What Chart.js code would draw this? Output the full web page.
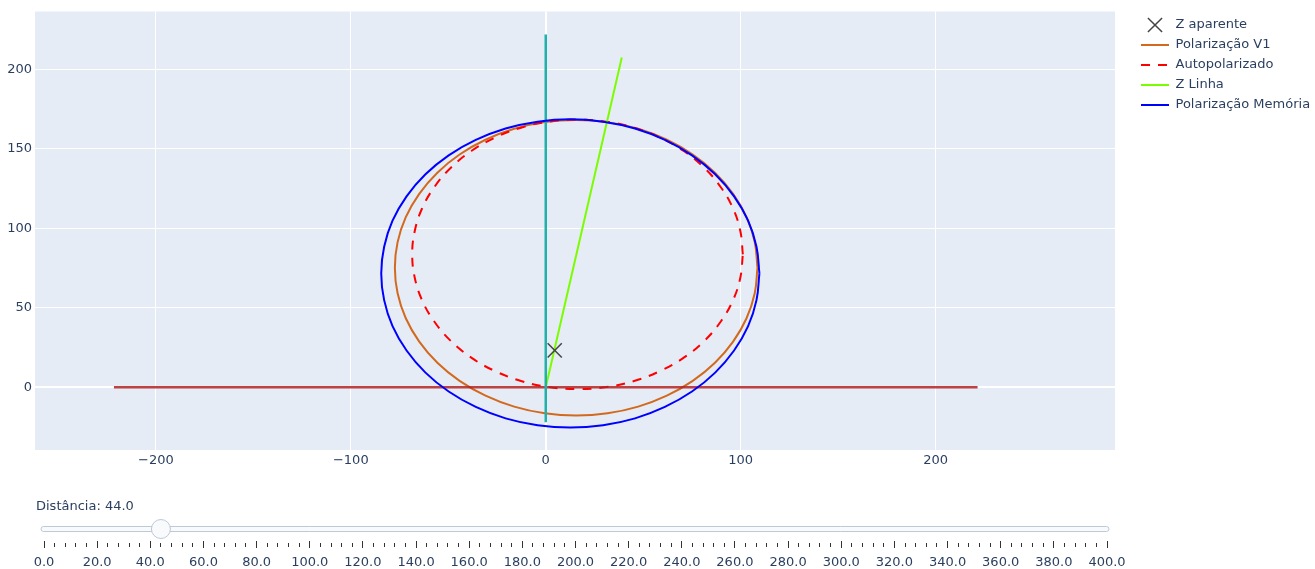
<!DOCTYPE html>
<html>
<head>
<meta charset="utf-8">
<script src="https://cdn.jsdelivr.net/npm/chart.js@4.4.1/dist/chart.umd.min.js"></script>
<style>
  html, body { margin: 0; padding: 0; background: #ffffff; }
  #wrap { position: relative; width: 1315px; height: 569px; overflow: hidden; }
  #main { position: absolute; left: 0; top: 0; }
  #slider { position: absolute; left: 0; top: 490px; }
</style>
</head>
<body>
<div id="wrap">
  <canvas id="main" width="1315" height="480"></canvas>
  <canvas id="slider" width="1315" height="79"></canvas>
</div>
<script>
// ---------- data (R, X in ohms) ----------
const zAparente = [[4.6, 23.2]];
const zLinha = [[0, 0], [39.0, 207.5]];
const eixoR = [[-221.5, 0], [221.5, 0]];
const eixoX = [[0, -22], [0, 222]];

const polarizacaoV1 = [
  [108.6, 75.2], [107.2, 91.3], [103.0, 107.0], [96.1, 121.7], [86.8, 135.0], [75.4, 146.4],
  [62.1, 155.7], [47.4, 162.6], [31.7, 166.8], [15.6, 168.2], [-0.5, 166.8], [-16.2, 162.6],
  [-30.9, 155.7], [-44.2, 146.4], [-55.6, 135.0], [-64.9, 121.7], [-71.8, 107.0], [-76.0, 91.3],
  [-77.4, 75.2], [-76.0, 59.1], [-71.8, 43.4], [-64.9, 28.7], [-55.6, 15.4], [-44.2, 4.0],
  [-30.9, -5.3], [-16.2, -12.2], [-0.5, -16.4], [15.6, -17.8], [31.7, -16.4], [47.4, -12.2],
  [62.1, -5.3], [75.4, 4.0], [86.8, 15.4], [96.1, 28.7], [103.0, 43.4], [107.2, 59.1], [108.6, 75.2]
];

const autopolarizado = [
  [101.1, 83.6], [99.8, 98.3], [96.0, 112.6], [89.7, 126.0], [81.3, 138.1], [70.8, 148.6],
  [58.7, 157.0], [45.3, 163.3], [31.0, 167.1], [16.3, 168.4], [1.6, 167.1], [-12.7, 163.3],
  [-26.1, 157.0], [-38.2, 148.6], [-48.7, 138.1], [-57.1, 126.0], [-63.4, 112.6], [-67.2, 98.3],
  [-68.5, 83.6], [-67.2, 68.9], [-63.4, 54.6], [-57.1, 41.2], [-48.7, 29.1], [-38.2, 18.6],
  [-26.1, 10.2], [-12.7, 3.9], [1.6, 0.1], [16.3, -1.2], [31.0, 0.1], [45.3, 3.9],
  [58.7, 10.2], [70.8, 18.6], [81.3, 29.1], [89.7, 41.2], [96.0, 54.6], [99.8, 68.9], [101.1, 83.6]
];

const polarizacaoMemoria = [
  [109.6, 71.6], [108.1, 88.4], [103.8, 104.8], [96.6, 120.1], [86.9, 134.0], [75.0, 145.9],
  [61.1, 155.6], [45.8, 162.8], [29.4, 167.1], [12.6, 168.6], [-4.2, 167.1], [-20.6, 162.8],
  [-35.9, 155.6], [-49.8, 145.9], [-61.7, 134.0], [-71.4, 120.1], [-78.6, 104.8], [-82.9, 88.4],
  [-84.4, 71.6], [-82.9, 54.8], [-78.6, 38.4], [-71.4, 23.1], [-61.7, 9.2], [-49.8, -2.7],
  [-35.9, -12.4], [-20.6, -19.6], [-4.2, -23.9], [12.6, -25.4], [29.4, -23.9], [45.8, -19.6],
  [61.1, -12.4], [75.0, -2.7], [86.9, 9.2], [96.6, 23.1], [103.8, 38.4], [108.1, 54.8], [109.6, 71.6]
];

const xTicks = [-200, -100, 0, 100, 200];
const yTicks = [0, 50, 100, 150, 200];
const xRange = [-262, 292];
const yRange = [-39.5, 236.4];

// slider
const distancia = 44.0;
const sliderRange = [0, 400];
const sliderStep = 4;
const sliderLabelStep = 20;
const sliderTicks = [];
for (let v = sliderRange[0]; v <= sliderRange[1]; v += sliderStep) sliderTicks.push(v);

// ---------- layout ----------
const PLOT_LEFT = 35, PLOT_TOP = 10, PLOT_RIGHT = 1115, MAIN_H = 480, PLOT_BOTTOM = 450;
const LEGEND_X = 1141, LEGEND_Y0 = 25;
const TEXT = '#2a3f5f';
const FONT = 'DejaVu Sans';

Chart.defaults.font.family = FONT;
Chart.defaults.font.size = 13;
Chart.defaults.color = TEXT;

const pts = arr => arr.map(([x, y]) => ({ x, y }));
const line = (label, data, color, width, order, dash, tension) => ({
  label, data: pts(data), showLine: true, borderColor: color, backgroundColor: color,
  borderWidth: width, borderDash: dash || [], pointRadius: 0, tension: tension || 0, fill: false, order
});

const datasets = [
  { label: 'Z aparente', data: pts(zAparente), showLine: false, pointStyle: 'crossRot',
    pointRadius: 10, borderColor: '#444444', backgroundColor: 'rgba(0,0,0,0)', borderWidth: 1.5, order: 0 },
  line('Polarização V1', polarizacaoV1, '#d2691e', 2, 6, [], 0.4),
  line('Autopolarizado', autopolarizado, '#ff0000', 2, 5, [9, 8], 0.4),
  line('Z Linha', zLinha, '#7cfc00', 2, 4),
  line('Polarização Memória', polarizacaoMemoria, '#0000ff', 2, 1, [], 0.4),
  line('', eixoR, 'rgba(178,34,34,0.85)', 2.5, 3),
  line('', eixoX, '#20b2aa', 2.5, 2)
];
const legendOrder = [0, 1, 2, 3, 4];

// legend icon for the cross marker, drawn with the library's point helper
const xIcon = document.createElement('canvas');
xIcon.width = 16; xIcon.height = 16;
{
  const c = xIcon.getContext('2d');
  c.strokeStyle = '#444444'; c.lineWidth = 1.5;
  if (Chart.helpers && Chart.helpers.drawPoint) {
    Chart.helpers.drawPoint(c, { pointStyle: 'crossRot', radius: 10, borderWidth: 1.5, rotation: 0 }, 8, 8);
  } else {
    c.beginPath(); c.moveTo(1, 1); c.lineTo(15, 15); c.moveTo(15, 1); c.lineTo(1, 15); c.stroke();
  }
}

const plotBackground = {
  id: 'plotBackground',
  beforeDraw(chart) {
    const { ctx, chartArea: a } = chart;
    ctx.save();
    ctx.fillStyle = '#e5ecf6';
    ctx.fillRect(a.left, a.top, a.right - a.left, a.bottom - a.top);
    ctx.restore();
  }
};

const legendPlace = {
  id: 'legendPlace',
  afterLayout(chart) {
    const lg = chart.legend;
    if (!lg) return;
    const pad = lg.options.labels.padding;
    const half = lg.options.labels.font.size / 2;
    const w = lg.width, h = lg.height;
    lg.left = LEGEND_X - pad; lg.right = lg.left + w;
    lg.top = LEGEND_Y0 - half - pad; lg.bottom = lg.top + h;
  }
};

const mainChart = new Chart(document.getElementById('main'), {
  type: 'scatter',
  data: { datasets },
  options: {
    responsive: false,
    animation: false,
    events: [],
    layout: { padding: { left: 0, top: PLOT_TOP, right: 20, bottom: 0 } },
    plugins: {
      tooltip: { enabled: false },
      legend: {
        position: 'right',
        align: 'start',
        labels: {
          usePointStyle: true,
          pointStyleWidth: 28,
          boxHeight: 13,
          padding: 7,
          color: TEXT,
          font: { family: FONT, size: 13 },
          generateLabels(chart) {
            return legendOrder.map(i => {
              const ds = chart.data.datasets[i];
              if (i === 0) {
                return { text: ds.label, pointStyle: xIcon, lineWidth: 0, strokeStyle: '#444444',
                  fillStyle: 'rgba(0,0,0,0)', fontColor: TEXT, datasetIndex: i, hidden: false };
              }
              return { text: ds.label, pointStyle: 'line', lineWidth: 2, strokeStyle: ds.borderColor,
                fillStyle: ds.borderColor, lineDash: ds.borderDash, fontColor: TEXT, datasetIndex: i, hidden: false };
            });
          }
        }
      }
    },
    scales: {
      x: {
        type: 'linear', min: xRange[0], max: xRange[1],
        afterBuildTicks: s => { s.ticks = xTicks.map(v => ({ value: v })); },
        afterFit: s => { s.height = MAIN_H - PLOT_BOTTOM; },
        border: { display: false },
        grid: { color: '#ffffff', lineWidth: c => (c.tick && c.tick.value === 0 ? 2 : 1), drawTicks: false },
        ticks: { color: TEXT, padding: 3, autoSkip: false, maxRotation: 0,
          callback: v => (v < 0 ? '\u2212' + Math.abs(v) : String(v)) }
      },
      y: {
        type: 'linear', min: yRange[0], max: yRange[1],
        afterBuildTicks: s => { s.ticks = yTicks.map(v => ({ value: v })); },
        afterFit: s => { s.width = PLOT_LEFT; },
        border: { display: false },
        grid: { color: '#ffffff', lineWidth: c => (c.tick && c.tick.value === 0 ? 2 : 1), drawTicks: false },
        ticks: { color: TEXT, padding: 3, autoSkip: false }
      }
    }
  },
  plugins: [plotBackground, legendPlace]
});

// keep the plot's right edge fixed whatever the legend width is
{
  const d = mainChart.chartArea.right - PLOT_RIGHT;
  if (Math.abs(d) > 0.25) {
    mainChart.options.layout.padding.right += d;
    mainChart.update('none');
  }
}

// ---------- slider ----------
const sliderDecor = {
  id: 'sliderDecor',
  afterDraw(chart) {
    const { ctx } = chart;
    const sx = chart.scales.x;
    const yc = chart.chartArea.bottom - 12;
    const x0 = sx.getPixelForValue(sliderRange[0]) - 3;
    const x1 = sx.getPixelForValue(sliderRange[1]) + 2;
    ctx.save();
    // rail
    ctx.beginPath();
    const h = 5, r = 2.5;
    ctx.moveTo(x0 + r, yc - h / 2);
    ctx.lineTo(x1 - r, yc - h / 2);
    ctx.arc(x1 - r, yc, r, -Math.PI / 2, Math.PI / 2);
    ctx.lineTo(x0 + r, yc + h / 2);
    ctx.arc(x0 + r, yc, r, Math.PI / 2, Math.PI * 1.5);
    ctx.closePath();
    ctx.fillStyle = '#f8fafc';
    ctx.fill();
    ctx.strokeStyle = '#bec8d9';
    ctx.lineWidth = 1;
    ctx.stroke();
    // handle
    ctx.beginPath();
    ctx.arc(sx.getPixelForValue(distancia), yc, 9.5, 0, Math.PI * 2);
    ctx.fillStyle = '#f8fafc';
    ctx.fill();
    ctx.strokeStyle = '#bec8d9';
    ctx.stroke();
    // current value
    ctx.fillStyle = TEXT;
    ctx.font = '13px "' + FONT + '"';
    ctx.textBaseline = 'middle';
    ctx.textAlign = 'left';
    ctx.fillText('Distância: ' + distancia.toFixed(1), sx.left - 8, 17);
    ctx.restore();
  }
};

new Chart(document.getElementById('slider'), {
  type: 'scatter',
  data: { datasets: [] },
  options: {
    responsive: false,
    animation: false,
    events: [],
    layout: { padding: { left: 44, right: 208, top: 0, bottom: 0 } },
    plugins: { legend: { display: false }, tooltip: { enabled: false } },
    scales: {
      x: {
        type: 'linear', position: 'bottom', min: sliderRange[0], max: sliderRange[1],
        afterBuildTicks: s => { s.ticks = sliderTicks.map(v => ({ value: v })); },
        afterFit: s => { s.height = 28; },
        border: { display: false },
        grid: {
          drawOnChartArea: false, drawTicks: true, tickLength: 7, tickColor: '#333333', tickWidth: 1,
          tickBorderDash: c => (c.tick && c.tick.value % sliderLabelStep === 0 ? [] : [0, 2, 4, 20])
        },
        ticks: { autoSkip: false, maxRotation: 0, minRotation: 0, padding: 7, color: TEXT,
          callback: v => (v % sliderLabelStep === 0 ? v.toFixed(1) : '') }
      },
      y: { display: false }
    }
  },
  plugins: [sliderDecor]
});
</script>
</body>
</html>
